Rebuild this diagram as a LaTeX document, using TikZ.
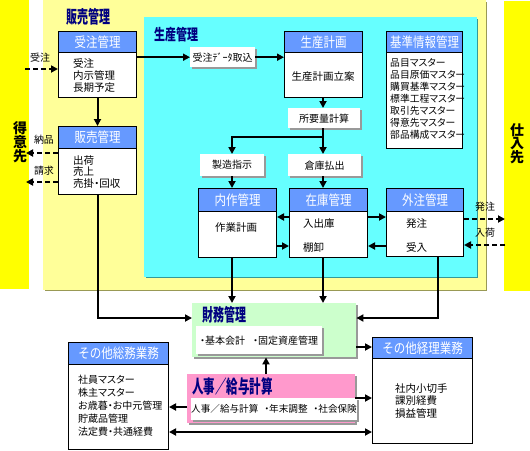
\documentclass[tikz,border=0pt]{standalone}
\usepackage{fontspec}
\usepackage{graphicx}
\setmainfont{Noto Sans CJK JP}
\newfontfamily\jpp[RawFeature=+palt]{Noto Sans CJK JP}
\usetikzlibrary{arrows.meta,shadows}
\definecolor{hdblue}{HTML}{6699FF}
\definecolor{cyanbg}{HTML}{66FFFF}
\definecolor{cyansh}{HTML}{339999}
\definecolor{ltyellow}{HTML}{FFFF99}
\definecolor{ltysh}{HTML}{999955}
\definecolor{yel}{HTML}{FFFF00}
\definecolor{grn}{HTML}{CCFFCC}
\definecolor{pnk}{HTML}{FF99CC}
\definecolor{navy}{HTML}{000080}
\newcommand{\hdtxt}[1]{\scalebox{1}[1.2]{#1}}
\newcommand{\talltxt}[1]{\scalebox{1}[1.6]{#1}}
\tikzset{
  mainbox/.style={draw=black, line width=1pt, fill=white, inner sep=0pt, anchor=north west},
  headbox/.style={draw=black, line width=1pt, fill=hdblue, text=white, inner sep=0pt, anchor=north west, font=\fontsize{11.5}{12}\selectfont},
  sbox/.style={fill=white, inner sep=0pt, anchor=north west, font=\jpp\fontsize{10}{12}\selectfont,
     general shadow={fill=black!40, shadow xshift=2pt, shadow yshift=-2pt}},
  body/.style={inner sep=0pt, align=left, anchor=north west},
  title/.style={inner sep=0pt, text=navy, font=\bfseries\fontsize{11}{11}\selectfont},
  lbl/.style={inner sep=0pt, font=\jpp\fontsize{10}{10}\selectfont},
  side/.style={inner sep=0pt, align=center, font=\bfseries\fontsize{14}{12.8}\selectfont},
  arr/.style={line width=2pt, -{Triangle[length=7pt,width=7pt]}},
  dblarr/.style={line width=2pt, {Triangle[length=7pt,width=7pt]}-{Triangle[length=7pt,width=7pt]}},
  dasharr/.style={line width=2pt, dash pattern=on 5pt off 3pt, -{Triangle[length=7pt,width=7pt]}},
}
\newcommand{\hdbox}[7]{%
  \node[mainbox, minimum width=#4pt, minimum height=#5pt] (#1) at (#2,#3) {};
  \node[headbox, minimum width=#4pt, minimum height=#6pt] (#1h) at (#2,#3) {\hdtxt{#7}};
}
\begin{document}
\begin{tikzpicture}[x=1pt,y=-1pt]
\useasboundingbox (0,0) rectangle (530,450);
% backgrounds
\fill[yel] (0,0) rectangle (29,289);
\fill[yel] (504,1) rectangle (530,291);
\fill[ltysh] (44.5,1.5) rectangle (487,291);
\fill[ltyellow] (43,0) rectangle (485.5,289.5);
\fill[cyansh] (145.5,18.5) rectangle (478,278);
\fill[cyanbg] (144,17) rectangle (476.5,276.5);
% titles
\node[title] (t-hanbai) at (88.5,16.5) {\talltxt{販売管理}};
\node[title] (t-seisan) at (176,34.5) {\scalebox{1}[1.4]{生産管理}};
\node[side] (tokui) at (20,142) {得\\意\\先};
\node[side] (shiire) at (517,144) {仕\\入\\先};
% header boxes
\hdbox{juchu}{58}{31}{78}{66}{21}{受注管理}
\hdbox{hanbai}{58}{126}{78}{68}{22}{販売管理}
\hdbox{seisan}{284}{31}{78}{66}{21}{生産計画}
\hdbox{kijun}{386}{31}{76}{117}{21}{基準情報管理}
\hdbox{naisaku}{198}{188}{78}{69}{23}{内作管理}
\hdbox{zaiko}{289}{188}{78}{69}{23}{在庫管理}
\hdbox{gaichu}{386}{188}{77}{68}{23}{外注管理}
\hdbox{soumu}{68}{342}{100}{107}{22}{その他総務業務}
\hdbox{keiri}{372}{337}{100}{106}{21}{その他経理業務}
% body texts
\node[body, font=\jpp\fontsize{10.5}{12}\selectfont] (juchu-t) at (73,58) {受注\\内示管理\\長期予定};
\node[body, font=\jpp\fontsize{10.5}{11.5}\selectfont] (hanbai-t) at (73,155) {出荷\\売上\\売掛・回収};
\node[inner sep=0pt, font=\jpp\fontsize{10.5}{12}\selectfont] (seisan-t) at (323,77) {生産計画立案};
\node[body, font=\jpp\fontsize{9.8}{12}\selectfont] (kijun-t) at (390,58) {品目マスター\\品目原価マスター\\購買基準マスター\\標準工程マスター\\取引先マスター\\得意先マスター\\部品構成マスター};
\node[inner sep=0pt, font=\jpp\fontsize{10.5}{12}\selectfont] (naisaku-t) at (236,228) {作業計画};
\node[body, font=\jpp\fontsize{10.5}{24.5}\selectfont] (zaiko-t) at (303,218) {入出庫\\棚卸};
\node[body, font=\jpp\fontsize{10.5}{24.5}\selectfont] (gaichu-t) at (406,218) {発注\\受入};
\node[body, font=\jpp\fontsize{10}{13}\selectfont] (soumu-t) at (78,375) {社員マスター\\株主マスター\\お歳暮・お中元管理\\貯蔵品管理\\法定費・共通経費};
\node[body, font=\jpp\fontsize{10.5}{12.5}\selectfont] (keiri-t) at (395,383) {社内小切手\\課別経費\\損益管理};
% small shadow boxes
\node[sbox, minimum width=65pt, minimum height=20pt] (torikomi) at (190,47) {受注ﾃﾞｰﾀ取込};
\node[sbox, minimum width=72pt, minimum height=20pt] (shoyo) at (288,108) {所要量計算};
\node[sbox, minimum width=64pt, minimum height=22pt] (seizo) at (200,154) {製造指示};
\node[sbox, minimum width=73pt, minimum height=22pt] (souko) at (288,154) {倉庫払出};
% finance
\node[fill=grn, inner sep=0pt, anchor=north west, minimum width=164pt, minimum height=54pt,
  general shadow={fill=black!40, shadow xshift=2pt, shadow yshift=-2pt}] (zaimu) at (192,303) {};
\node[title] (t-zaimu) at (224.5,314.5) {\talltxt{財務管理}};
\node[sbox, minimum width=126pt, minimum height=28pt] (zaimu-in) at (196,326) {・基本会計\hspace{8pt}・固定資産管理};
% HR
\node[fill=pnk, inner sep=0pt, anchor=north west, minimum width=168pt, minimum height=49pt,
  general shadow={fill=black!40, shadow xshift=2pt, shadow yshift=-2pt}] (jinji) at (187,374) {};
\node[title, font=\bfseries\fontsize{11.5}{11.5}\selectfont] (t-jinji) at (232.5,386) {\talltxt{人事／給与計算}};
\node[sbox, minimum width=161pt, minimum height=22pt, font=\jpp\fontsize{9.6}{11}\selectfont] (jinji-in) at (191,398) {人事／給与計算\hspace{6pt}・年末調整\hspace{6pt}・社会保険};
% labels
\node[lbl] (l-juchu) at (40,58) {受注};
\node[lbl] (l-nouhin) at (44,140) {納品};
\node[lbl] (l-seikyu) at (44,171) {請求};
\node[lbl] (l-hatchu) at (485,207) {発注};
\node[lbl] (l-nyuka) at (485,233) {入荷};
% coordinates
\coordinate (cin) at (25,69);
\coordinate (nouhin) at (26,153);
\coordinate (seikyu) at (26,182);
\coordinate (br) at (323,137);
\coordinate (ya) at (0,217);
\coordinate (yb) at (0,246);
\coordinate (hc) at (505,219);
\coordinate (nk) at (505,245);
\coordinate (yz) at (0,318);
\coordinate (gx) at (438,0);
\coordinate (jx) at (266,0);
\coordinate (y347) at (0,347);
\coordinate (y398) at (0,398);
\coordinate (y407) at (0,407);
\coordinate (y432) at (0,432);
\coordinate (sx) at (232,0);
% connectors
\draw[dasharr] (cin) -- (cin -| juchu.west);
\draw[arr] (juchu.south) -- (hanbai.north);
\draw[dasharr] (nouhin -| hanbai.west) -- (nouhin);
\draw[dasharr] (seikyu -| hanbai.west) -- (seikyu);
\draw[arr] (hanbai.south) |- (yz -| zaimu.west);
\draw[arr] (juchu.east |- torikomi.west) -- (torikomi.west);
\draw[arr] (torikomi.east) -- (torikomi.east -| seisan.west);
\draw[arr] (br |- seisan.south) -- (br |- shoyo.north);
\draw[arr] (br |- shoyo.south) -- (br |- souko.north);
\draw[arr] (br) -| (sx |- seizo.north);
\draw[arr] (sx |- seizo.south) -- (sx |- naisaku.north);
\draw[arr] (br |- souko.south) -- (br |- zaiko.north);
\draw[arr] (ya -| zaiko.west) -- (ya -| naisaku.east);
\draw[arr] (yb -| naisaku.east) -- (yb -| zaiko.west);
\draw[arr] (ya -| zaiko.east) -- (ya -| gaichu.west);
\draw[arr] (yb -| gaichu.west) -- (yb -| zaiko.east);
\draw[dasharr] (hc -| gaichu.east) -- (hc);
\draw[dasharr] (nk) -- (nk -| gaichu.east);
\draw[arr] (sx |- naisaku.south) -- (sx |- zaimu.north);
\draw[arr] (br |- zaiko.south) -- (br |- zaimu.north);
\draw[arr] (gx |- gaichu.south) |- (yz -| zaimu.east);
\draw[arr] (y347 -| zaimu.east) -- (y347 -| keiri.west);
\draw[arr] (jx |- jinji.north) -- (jx |- zaimu.south);
\draw[arr] (y407 -| jinji.west) -- (y407 -| soumu.east);
\draw[arr] (y398 -| jinji.east) -- (y398 -| keiri.west);
\draw[dblarr] (y432 -| soumu.east) -- (y432 -| keiri.west);
\end{tikzpicture}
\end{document}
